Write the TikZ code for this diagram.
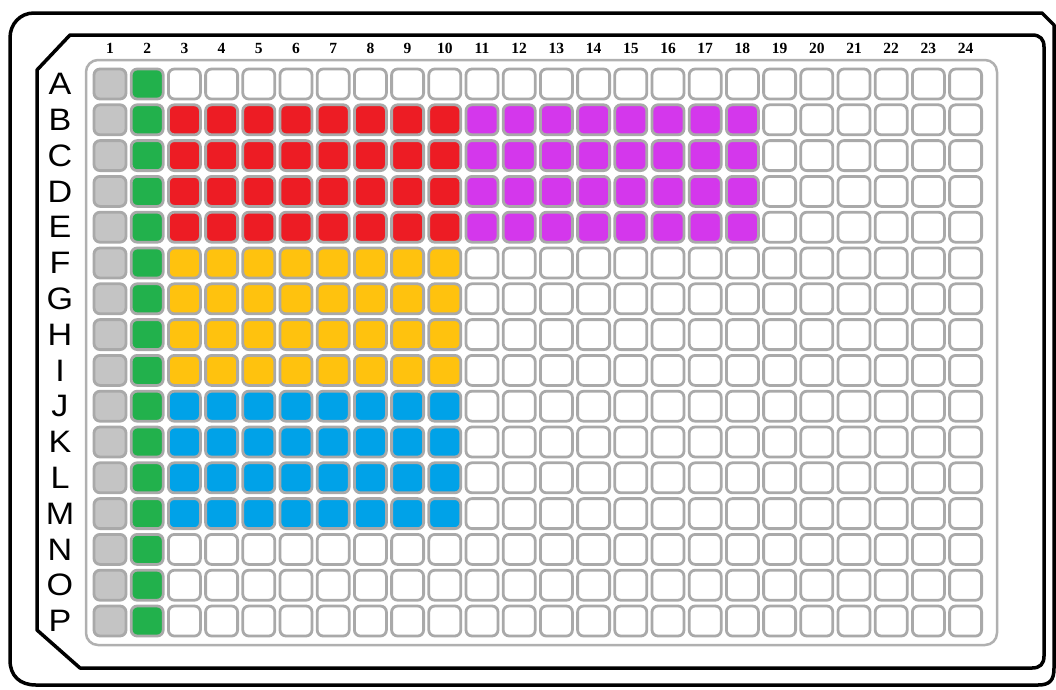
\documentclass[tikz,border=0pt]{standalone}
\usepackage{fontspec}
\setmainfont{Liberation Serif}
\newfontfamily\rowfont{Liberation Sans}
\definecolor{cgray}{HTML}{C4C4C4}
\definecolor{cgreen}{HTML}{22B14C}
\definecolor{cred}{HTML}{ED1C24}
\definecolor{cmag}{HTML}{D437EC}
\definecolor{cyel}{HTML}{FFC20E}
\definecolor{cblue}{HTML}{00A2E8}
\definecolor{wellline}{HTML}{A9A9A9}
\definecolor{plateline}{HTML}{B0B0B0}
\tikzset{
  platebody/.style={draw=black, line width=3.5pt, line join=round},
  wellarea/.style={draw=plateline, line width=2.5pt, rounded corners=12pt},
  well/.style={draw=wellline, line width=2.8pt, rounded corners=6pt, minimum width=32pt, minimum height=30pt, inner sep=0pt, outer sep=0pt},
  collabel/.style={font=\bfseries\fontsize{15.5}{15.5}\selectfont, inner sep=0pt},
  rowlabel/.style={font=\rowfont\fontsize{31}{31}\selectfont, inner sep=0pt, xscale=1.1}
}
\begin{document}
\begin{tikzpicture}[x=1pt,y=-1pt]
\path[use as bounding box, fill=white] (0,0) rectangle (1056,689);
% outer plate outline
\draw[platebody] (34,13) -- (1042,13) -- (1054,25) -- (1054,668)
  .. controls (1054,680) and (1050,685) .. (1038,685) -- (36,685)
  .. controls (20,685) and (10,676) .. (10,660) -- (10,38)
  .. controls (10,24) and (20,13) .. (34,13) -- cycle;
% inner plate outline
\draw[platebody] (70,35) -- (1032,35) .. controls (1040,35) and (1044,39) .. (1044,47)
  -- (1044,656) .. controls (1044,664) and (1040,668) .. (1032,668)
  -- (80,668) -- (37,630) -- (37,70) -- cycle;
% well area
\draw[wellarea] (86,60) rectangle (997,645);
% column labels
\foreach \c in {1,...,24}{
  \node[collabel] (col\c) at ({110+(\c-1)*37.2},48) {\c};
}
% row labels
\foreach \l [count=\r] in {A,B,C,D,E,F,G,H,I,J,K,L,M,N,O,P}{
  \node[rowlabel] (row\r) at (60,{84+(\r-1)*35.8}) {\l};
}
% wells
\foreach \r in {1,...,16}{
  \foreach \c in {1,...,24}{
    \def\wc{white}
    \ifnum\c=1 \def\wc{cgray}\fi
    \ifnum\c=2 \def\wc{cgreen}\fi
    \ifnum\r>1 \ifnum\r<6 \ifnum\c>2 \ifnum\c<11 \def\wc{cred}\fi\fi\fi\fi
    \ifnum\r>1 \ifnum\r<6 \ifnum\c>10 \ifnum\c<19 \def\wc{cmag}\fi\fi\fi\fi
    \ifnum\r>5 \ifnum\r<10 \ifnum\c>2 \ifnum\c<11 \def\wc{cyel}\fi\fi\fi\fi
    \ifnum\r>9 \ifnum\r<14 \ifnum\c>2 \ifnum\c<11 \def\wc{cblue}\fi\fi\fi\fi
    \node[well, fill=\wc] (w\r-\c) at ({110+(\c-1)*37.2},{84+(\r-1)*35.8}) {};
  }
}
\end{tikzpicture}
\end{document}
